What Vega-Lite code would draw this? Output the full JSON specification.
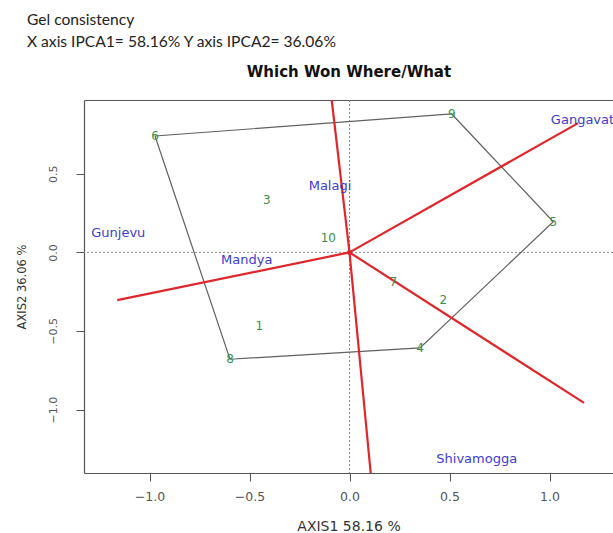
{
  "$schema": "https://vega.github.io/schema/vega-lite/v6.json",
  "width": 529,
  "height": 373,
  "autosize": {"type": "none"},
  "padding": {"left": 84, "top": 100, "right": 0, "bottom": 60},
  "background": "white",
  "config": {"view": {"stroke": null}, "font": "DejaVu Sans"},
  "title": {
    "text": ["Gel consistency", "X axis IPCA1= 58.16% Y axis IPCA2= 36.06%"],
    "anchor": "start",
    "frame": "group",
    "dx": -57,
    "offset": 13,
    "font": "Lato",
    "fontSize": 15.6,
    "fontWeight": "normal",
    "color": "#222",
    "lineHeight": 22
  },
  "datasets": {
    "vref": [{"x": 0}],
    "href": [{"y": 0}],
    "polygon": [
      {"order": 1, "genotype": "6", "x": -0.9725, "y": 0.741},
      {"order": 2, "genotype": "9", "x": 0.511, "y": 0.881},
      {"order": 3, "genotype": "5", "x": 1.019, "y": 0.195},
      {"order": 4, "genotype": "4", "x": 0.3525, "y": -0.608},
      {"order": 5, "genotype": "8", "x": -0.5975, "y": -0.68},
      {"order": 6, "genotype": "6", "x": -0.9725, "y": 0.741}
    ],
    "rays": [
      {"ray": "up", "x": 0, "y": 0, "x2": -0.089, "y2": 0.97},
      {"ray": "upper right", "x": 0, "y": 0, "x2": 1.143, "y2": 0.823},
      {"ray": "lower right", "x": 0, "y": 0, "x2": 1.1725, "y2": -0.958},
      {"ray": "down", "x": 0, "y": 0, "x2": 0.106, "y2": -1.404},
      {"ray": "left", "x": 0, "y": 0, "x2": -1.161, "y2": -0.304}
    ],
    "origin": [{"x": 0, "y": 0}],
    "genotypes": [
      {"label": "1", "x": -0.451, "y": -0.467},
      {"label": "2", "x": 0.469, "y": -0.304},
      {"label": "3", "x": -0.414, "y": 0.333},
      {"label": "4", "x": 0.3525, "y": -0.608},
      {"label": "5", "x": 1.019, "y": 0.195},
      {"label": "6", "x": -0.9725, "y": 0.741},
      {"label": "7", "x": 0.219, "y": -0.187},
      {"label": "8", "x": -0.5975, "y": -0.68},
      {"label": "9", "x": 0.511, "y": 0.881},
      {"label": "10", "x": -0.106, "y": 0.093}
    ],
    "environments": [
      {"label": "Gangavati", "x": 1.174, "y": 0.843},
      {"label": "Malagi", "x": -0.0975, "y": 0.424},
      {"label": "Gunjevu", "x": -1.156, "y": 0.121},
      {"label": "Mandya", "x": -0.514, "y": -0.049},
      {"label": "Shivamogga", "x": 0.636, "y": -1.318}
    ]
  },
  "resolve": {"axis": {"x": "independent", "y": "independent"}},
  "layer": [
    {
      "data": {"name": "vref"},
      "mark": {"type": "rule", "color": "#8a8a8a", "strokeDash": [2, 2], "strokeWidth": 1},
      "encoding": {
        "x": {
          "field": "x", "type": "quantitative",
          "scale": {"domain": [-1.3275, 1.3175], "nice": false, "zero": false},
          "axis": {
            "orient": "top", "labels": false, "ticks": false, "grid": false,
            "domain": true, "domainColor": "#555", "domainWidth": 1.2,
            "title": "Which Won Where/What", "titleFont": "DejaVu Sans",
            "titleFontSize": 15, "titleFontWeight": "bold", "titleColor": "#111",
            "titlePadding": 21
          }
        }
      }
    },
    {
      "data": {"name": "href"},
      "mark": {"type": "rule", "color": "#8a8a8a", "strokeDash": [2, 2], "strokeWidth": 1},
      "encoding": {
        "y": {
          "field": "y", "type": "quantitative",
          "scale": {"domain": [-1.404, 0.97], "nice": false, "zero": false},
          "axis": {
            "orient": "left", "values": [-1, -0.5, 0, 0.5], "format": ".1f",
            "grid": false, "tickSize": 8, "tickColor": "#555", "domainColor": "#555", "domainWidth": 1.2,
            "labelAngle": 270, "labelAlign": "center", "labelBaseline": "bottom",
            "labelFont": "DejaVu Sans", "labelFontSize": 11, "labelColor": "#555", "labelPadding": 18,
            "title": "AXIS2 36.06 %", "titleFont": "DejaVu Sans", "titleFontSize": 11.5,
            "titleFontWeight": "normal", "titleColor": "#333", "titlePadding": 20
          }
        }
      }
    },
    {
      "data": {"name": "polygon"},
      "mark": {"type": "line", "color": "#606060", "strokeWidth": 1.2},
      "encoding": {
        "x": {
          "field": "x", "type": "quantitative",
          "scale": {"domain": [-1.3275, 1.3175], "nice": false, "zero": false},
          "axis": {
            "orient": "bottom", "values": [-1, -0.5, 0, 0.5, 1], "format": ".1f",
            "grid": false, "tickSize": 8, "tickColor": "#555", "domainColor": "#555", "domainWidth": 1.2,
            "labelFont": "DejaVu Sans", "labelFontSize": 12.5, "labelColor": "#555", "labelPadding": 9,
            "labelFlush": false,
            "title": "AXIS1 58.16 %", "titleFont": "DejaVu Sans", "titleFontSize": 14,
            "titleFontWeight": "normal", "titleColor": "#333", "titlePadding": 17
          }
        },
        "y": {"field": "y", "type": "quantitative", "scale": {"domain": [-1.404, 0.97], "nice": false, "zero": false}, "axis": null},
        "order": {"field": "order", "type": "quantitative"}
      }
    },
    {
      "data": {"name": "rays"},
      "mark": {"type": "rule", "color": "#e0262a", "strokeWidth": 2.2},
      "encoding": {
        "x": {"field": "x", "type": "quantitative", "axis": null},
        "y": {"field": "y", "type": "quantitative", "axis": null},
        "x2": {"field": "x2"},
        "y2": {"field": "y2"},
        "detail": {"field": "ray"}
      }
    },
    {
      "data": {"name": "origin"},
      "mark": {"type": "point", "filled": true, "color": "#e0262a", "size": 25, "opacity": 1},
      "encoding": {
        "x": {"field": "x", "type": "quantitative", "axis": null},
        "y": {"field": "y", "type": "quantitative", "axis": null}
      }
    },
    {
      "data": {"name": "genotypes"},
      "mark": {"type": "text", "color": "#3a9046", "font": "DejaVu Sans", "fontSize": 12, "baseline": "middle", "align": "center"},
      "encoding": {
        "x": {"field": "x", "type": "quantitative", "axis": null},
        "y": {"field": "y", "type": "quantitative", "axis": null},
        "text": {"field": "label"}
      }
    },
    {
      "data": {"name": "environments"},
      "mark": {"type": "text", "color": "#3c3cd0", "font": "DejaVu Sans", "fontSize": 13, "baseline": "middle", "align": "center"},
      "encoding": {
        "x": {"field": "x", "type": "quantitative", "axis": null},
        "y": {"field": "y", "type": "quantitative", "axis": null},
        "text": {"field": "label"}
      }
    }
  ]
}
